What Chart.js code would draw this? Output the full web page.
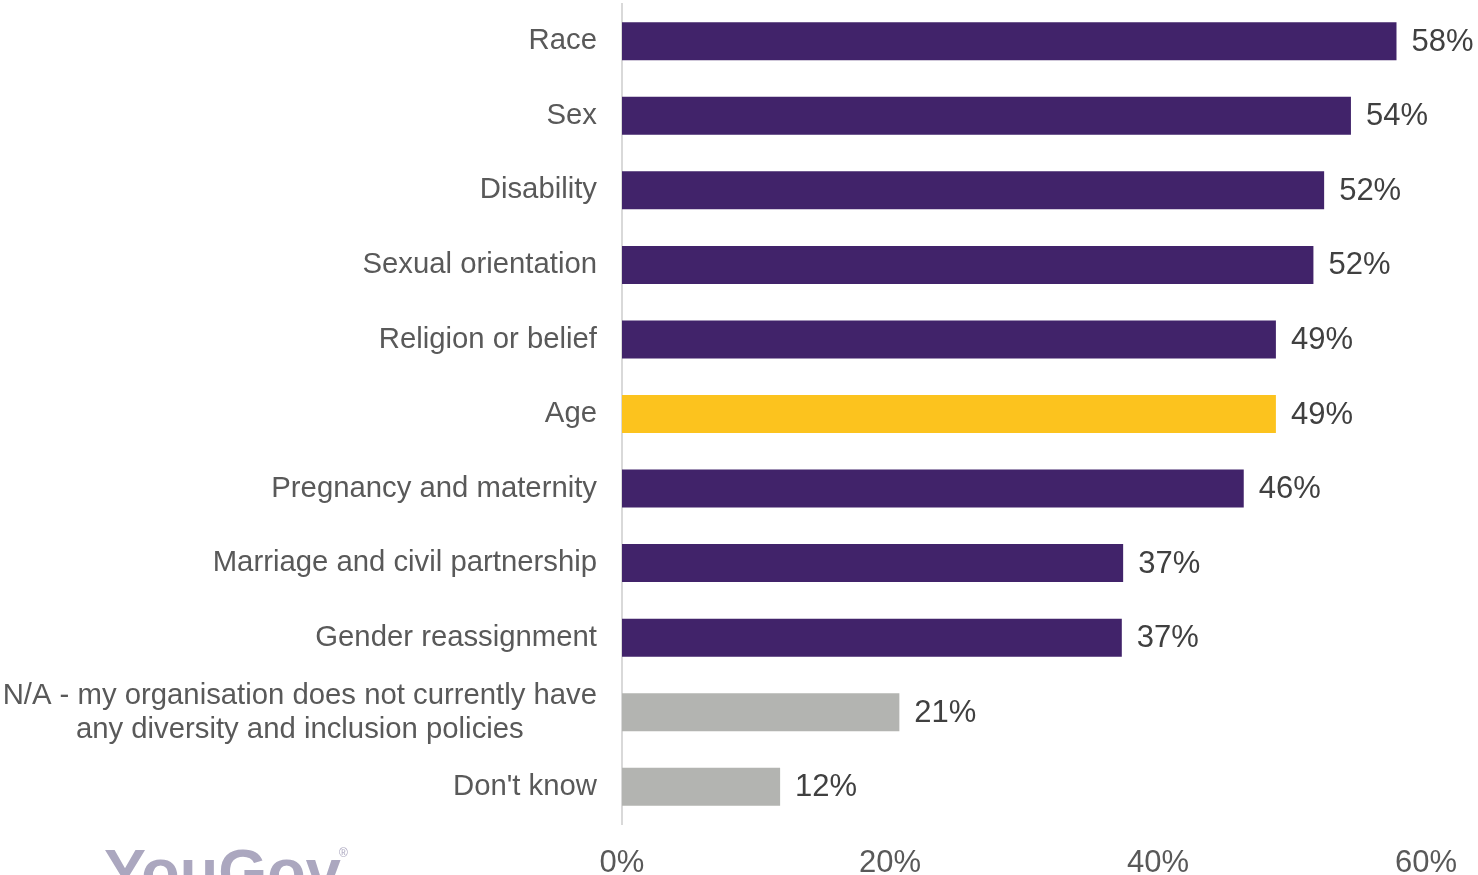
<!DOCTYPE html>
<html>
<head>
<meta charset="utf-8">
<script src="https://cdn.jsdelivr.net/npm/chart.js@4/dist/chart.umd.min.js"></script>
<style>
  html, body { margin: 0; padding: 0; background: #fff; }
  #wrap { width: 1478px; height: 875px; }
</style>
</head>
<body>
<div id="wrap"><canvas id="myChart"></canvas></div>
<script>
/* categories and shares (%) */
const categories = [
  'Race',
  'Sex',
  'Disability',
  'Sexual orientation',
  'Religion or belief',
  'Age',
  'Pregnancy and maternity',
  'Marriage and civil partnership',
  'Gender reassignment',
  ['N/A - my organisation does not currently have', 'any diversity and inclusion policies'],
  "Don't know"
];
const shares = [57.8, 54.4, 52.4, 51.6, 48.8, 48.8, 46.4, 37.4, 37.3, 20.7, 11.8];
const xTicks = [0, 20, 40, 60];

const barColours = [
  '#41236a', '#41236a', '#41236a', '#41236a', '#41236a',
  '#fcc31e',
  '#41236a', '#41236a', '#41236a',
  '#b3b4b1', '#b3b4b1'
];

const FONT = '"Liberation Sans", Arial, sans-serif';

/* category names, value labels and logo */
const labelsPlugin = {
  id: 'labelsPlugin',
  afterDraw(chart) {
    const ctx = chart.ctx;
    const yScale = chart.scales.y;
    const left = chart.chartArea.left;
    ctx.save();

    // category names
    ctx.font = '29.3px ' + FONT;
    ctx.fillStyle = '#595959';
    ctx.textBaseline = 'middle';
    categories.forEach((cat, i) => {
      const y = yScale.getPixelForValue(i);
      const xr = left - 25;
      if (Array.isArray(cat)) {
        const w = Math.max(...cat.map(l => ctx.measureText(l).width));
        ctx.textAlign = 'center';
        const lh = 34;
        cat.forEach((line, j) => {
          ctx.fillText(line, xr - w / 2, y + 1 + (j - (cat.length - 1) / 2) * lh);
        });
      } else {
        ctx.textAlign = 'right';
        ctx.fillText(cat, xr, y);
      }
    });

    // value labels
    ctx.font = '31px ' + FONT;
    ctx.fillStyle = '#404040';
    ctx.textAlign = 'left';
    const meta = chart.getDatasetMeta(0);
    meta.data.forEach((bar, i) => {
      ctx.fillText(Math.round(shares[i]) + '%', bar.x + 15, bar.y + 1);
    });

    // logo
    ctx.fillStyle = '#aba7bf';
    ctx.font = 'bold 63px ' + FONT;
    ctx.textBaseline = 'alphabetic';
    ctx.fillText('YouGov', 104, 893);
    ctx.font = '12px ' + FONT;
    ctx.fillText('\u00ae', 339, 857);
    ctx.restore();
  }
};

const config = {
  type: 'bar',
  data: {
    labels: categories,
    datasets: [{
      data: shares,
      backgroundColor: barColours,
      borderWidth: 0,
      barPercentage: 0.51,
      categoryPercentage: 1
    }]
  },
  options: {
    indexAxis: 'y',
    responsive: true,
    maintainAspectRatio: false,
    animation: false,
    layout: { padding: { top: 4, right: 51, left: 0, bottom: 0 } },
    plugins: {
      legend: { display: false },
      tooltip: { enabled: false }
    },
    scales: {
      x: {
        min: 0,
        max: 60,
        afterBuildTicks(scale) {
          scale.ticks = xTicks.map(v => ({ value: v }));
        },
        afterFit(scale) { scale.height = 51; },
        grid: { display: false, drawTicks: false },
        border: { display: false },
        ticks: {
          padding: 21,
          color: '#595959',
          font: { size: 31, family: FONT },
          callback: v => v + '%'
        }
      },
      y: {
        afterFit(scale) { scale.width = 622; },
        grid: { display: false, drawTicks: false },
        border: { display: true, color: '#d9d9d9', width: 2 },
        ticks: { display: false }
      }
    }
  },
  plugins: [labelsPlugin]
};

const myChart = new Chart(document.getElementById('myChart'), config);
</script>
</body>
</html>
